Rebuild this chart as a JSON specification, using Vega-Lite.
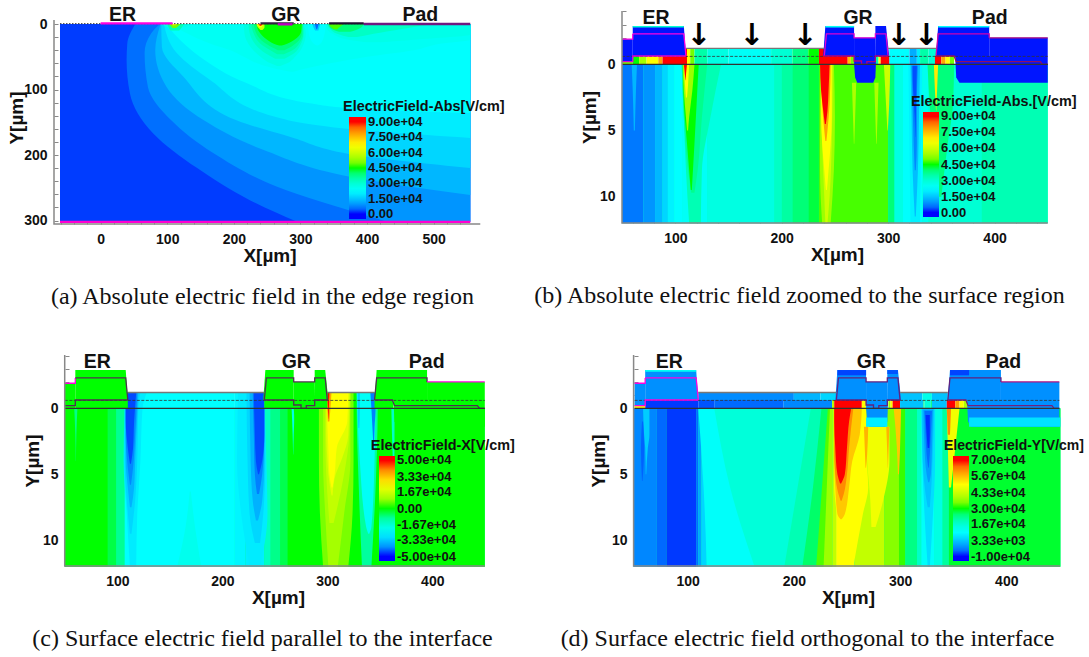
{"$schema":"https://vega.github.io/schema/vega-lite/v6.json","background":"white","padding":{"left":7,"top":4,"right":0,"bottom":0},"config":{"view":{"stroke":null},"font":"Liberation Sans","axis":{"grid":false,"domain":false,"tickColor":"#888","tickSize":-4,"tickWidth":1,"labelFont":"Liberation Sans","labelFontWeight":"bold","labelFontSize":14,"labelColor":"#111","labelOverlap":false,"labelFlush":false,"titleFont":"Liberation Sans","titleFontWeight":"bold","titleFontSize":19,"titleColor":"#111"},"legend":{"labelFont":"Liberation Sans","labelFontWeight":"bold","labelFontSize":13,"labelColor":"#111","labelOverlap":false,"labelOffset":2,"gradientStrokeWidth":0},"title":{"font":"Liberation Serif","fontWeight":"normal","fontSize":24,"color":"#111"}},"datasets":{
"ol":[{"g":"erL","x":50,"y":-1.9},{"g":"erL","x":60,"y":-1.9},{"g":"erL","x":60,"y":-2.3},{"g":"erT","x":60,"y":-2.3},{"g":"erT","x":108,"y":-2.3},{"g":"erT","x":110,"y":-0.63},{"g":"erB","x":50,"y":-0.2},{"g":"erB","x":60,"y":-0.2},{"g":"erB","x":60,"y":-0.63},{"g":"erB","x":110,"y":-0.63},{"g":"grT","x":240,"y":-0.63},{"g":"grT","x":242,"y":-2.3},{"g":"grT","x":268,"y":-2.3},{"g":"grT","x":268,"y":-2},{"g":"grT","x":288,"y":-2},{"g":"grT","x":288,"y":-2.3},{"g":"grT","x":298,"y":-2.3},{"g":"grT","x":300,"y":-0.63},{"g":"grB","x":240,"y":-0.63},{"g":"grB","x":268,"y":-0.63},{"g":"grB","x":268,"y":-0.25},{"g":"grB","x":275,"y":-0.25},{"g":"grB","x":275,"y":0},{"g":"grB","x":280,"y":0},{"g":"grB","x":280,"y":-0.2},{"g":"grB","x":288,"y":-0.2},{"g":"grB","x":288,"y":-0.63},{"g":"grB","x":300,"y":-0.63},{"g":"padT","x":345,"y":-0.63},{"g":"padT","x":347,"y":-2.3},{"g":"padT","x":395,"y":-2.3},{"g":"padT","x":395,"y":-2},{"g":"padR","x":395,"y":-2},{"g":"padR","x":450,"y":-2},{"g":"padB","x":345,"y":-0.63},{"g":"padB","x":362,"y":-0.63},{"g":"padB","x":364,"y":-0.2},{"g":"padB","x":443,"y":-0.2},{"g":"padB","x":445,"y":0},{"g":"padB","x":450,"y":0},{"g":"ox1","x":110,"y":-1.2},{"g":"ox1","x":240,"y":-1.2},{"g":"ox2","x":300,"y":-1.2},{"g":"ox2","x":345,"y":-1.2},{"g":"s0","x":50,"y":0},{"g":"s0","x":450,"y":0}],
"metal":[{"g":1,"y":-1.9,"x":50,"X":60},{"g":1,"y":-0.2,"x":50,"X":60},{"g":2,"y":-2.9,"x":60,"X":108},{"g":2,"y":-0.63,"x":60,"X":110},{"g":3,"y":-2.9,"x":241,"X":268},{"g":3,"y":-0.63,"x":239,"X":268},{"g":4,"y":-2,"x":268,"X":288},{"g":4,"y":0,"x":268,"X":288.5},{"g":4,"y":1,"x":269,"X":288},{"g":4,"y":1.4,"x":271,"X":286},{"g":5,"y":-2.9,"x":288,"X":298},{"g":5,"y":-0.63,"x":288,"X":301},{"g":6,"y":-2.9,"x":347,"X":395},{"g":6,"y":-0.63,"x":345,"X":395},{"g":7,"y":-2,"x":395,"X":450},{"g":7,"y":-0.63,"x":395,"X":450},{"g":8,"y":-0.63,"x":363,"X":450},{"g":8,"y":1,"x":364,"X":450},{"g":8,"y":1.4,"x":367,"X":450}]},
"resolve":{"scale":{"fill":"independent","stroke":"independent"},"legend":{"fill":"independent"}},
"vconcat":[{"spacing":28,"resolve":{"scale":{"fill":"independent","stroke":"independent"},"legend":{"fill":"independent"}},"hconcat":[
{"width":431,"height":213,"title":{"text":"(a) Absolute electric field in the edge region","orient":"bottom","anchor":"middle","dx":-7,"offset":20},
"encoding":{"x":{"field":"x","type":"quantitative","stack":null,"scale":{"domain":[-70,577.1],"nice":false,"zero":false},"axis":{"title":"X[µm]","titlePadding":0,"labelPadding":12,"format":"d","values":[-60,-40,-20,0,20,40,60,80,100,120,140,160,180,200,220,240,260,280,300,320,340,360,380,400,420,440,460,480,500,520,540],"labelExpr":"datum.value%100==0?datum.label:''"}},"y":{"field":"y","type":"quantitative","stack":null,"scale":{"domain":[305.3,-19.85],"nice":false,"zero":false},"axis":{"title":"Y[µm]","titlePadding":-3,"labelPadding":11,"format":"d","values":[0,20,40,60,80,100,120,140,160,180,200,220,240,260,280,300],"labelExpr":"datum.value%100==0?datum.label:''"}}},
"layer":[
{"mark":"rect","data":{"values":[{"x":-61,"X":555,"y":0,"Y":302,"v":1875}]},"encoding":{"x2":{"field":"X"},"y2":{"field":"Y"},"fill":{"field":"v","type":"quantitative","scale":{"domain":[-4800,0,22500,45000,67500,90000,94800],"range":["#0000ff","#0000ff","#00ffff","#00ff00","#ffff00","#ff0000","#ff0000"]},"legend":{"title":null,"type":"gradient","orient":"none","legendX":295,"legendY":106,"gradientLength":102,"gradientThickness":17,"values":[0,15000,30000,45000,60000,75000,90000],"labelExpr":"datum.value==0?'0.00':replace(format(datum.value,'.2e'),'e+','e+0')"}}}},
{"mark":{"type":"area","orient":"horizontal","interpolate":"monotone"},"data":{"values":[
{"g":1,"v":5625,"y":0,"x":52,"X":555},{"g":1,"v":5625,"y":30,"x":40,"X":555},{"g":1,"v":5625,"y":55,"x":39,"X":555},{"g":1,"v":5625,"y":106,"x":44,"X":555},{"g":1,"v":5625,"y":167,"x":79,"X":555},{"g":1,"v":5625,"y":220,"x":145,"X":555},{"g":1,"v":5625,"y":269,"x":224,"X":555},{"g":1,"v":5625,"y":302,"x":295,"X":555},
{"g":2,"v":9375,"y":0,"x":89,"X":555},{"g":2,"v":9375,"y":14,"x":76,"X":555},{"g":2,"v":9375,"y":44,"x":66,"X":555},{"g":2,"v":9375,"y":96,"x":71,"X":555},{"g":2,"v":9375,"y":147,"x":106,"X":555},{"g":2,"v":9375,"y":197,"x":169,"X":555},{"g":2,"v":9375,"y":248,"x":264,"X":555},{"g":2,"v":9375,"y":294,"x":404,"X":555},{"g":2,"v":9375,"y":302,"x":430,"X":555},
{"g":3,"v":13125,"y":0,"x":90,"X":555},{"g":3,"v":13125,"y":40,"x":82,"X":555},{"g":3,"v":13125,"y":96,"x":99,"X":555},{"g":3,"v":13125,"y":147,"x":155,"X":555},{"g":3,"v":13125,"y":192,"x":244,"X":555},{"g":3,"v":13125,"y":233,"x":374,"X":555},{"g":3,"v":13125,"y":261,"x":555,"X":555},
{"g":4,"v":16875,"y":0,"x":91,"X":555},{"g":4,"v":16875,"y":35,"x":92,"X":555},{"g":4,"v":16875,"y":80,"x":124,"X":555},{"g":4,"v":16875,"y":147,"x":204,"X":555},{"g":4,"v":16875,"y":172,"x":284,"X":555},{"g":4,"v":16875,"y":200,"x":384,"X":555},{"g":4,"v":16875,"y":220,"x":555,"X":555},
{"g":5,"v":20000,"y":0,"x":95,"X":555},{"g":5,"v":20000,"y":44,"x":114,"X":555},{"g":5,"v":20000,"y":85,"x":164,"X":555},{"g":5,"v":20000,"y":141,"x":259,"X":555},{"g":5,"v":20000,"y":160,"x":370,"X":555},{"g":5,"v":20000,"y":174,"x":555,"X":555},
{"g":6,"v":22800,"y":0,"x":98,"X":555},{"g":6,"v":22800,"y":20,"x":115,"X":555},{"g":6,"v":22800,"y":50,"x":149,"X":555},{"g":6,"v":22800,"y":90,"x":219,"X":555},{"g":6,"v":22800,"y":121,"x":314,"X":555},{"g":6,"v":22800,"y":130,"x":400,"X":555},{"g":6,"v":22800,"y":136,"x":555,"X":555},
{"g":7,"v":25000,"y":0,"x":105,"X":555},{"g":7,"v":25000,"y":12,"x":125,"X":555},{"g":7,"v":25000,"y":24,"x":150,"X":555},{"g":7,"v":25000,"y":30,"x":165,"X":510},{"g":7,"v":25000,"y":40,"x":195,"X":470},{"g":7,"v":25000,"y":50,"x":215,"X":400},{"g":7,"v":25000,"y":60,"x":235,"X":345},{"g":7,"v":25000,"y":70,"x":270,"X":300},{"g":7,"v":25000,"y":73,"x":285,"X":290},
{"g":8,"v":27000,"y":0,"x":338,"X":555},{"g":8,"v":27000,"y":8,"x":340,"X":555},{"g":8,"v":27000,"y":16,"x":350,"X":555},{"g":8,"v":27000,"y":24,"x":372,"X":470},{"g":8,"v":27000,"y":28,"x":400,"X":420},
{"g":9,"v":28125,"y":0,"x":215,"X":305},{"g":9,"v":28125,"y":15,"x":216,"X":308},{"g":9,"v":28125,"y":35,"x":225,"X":303},{"g":9,"v":28125,"y":50,"x":240,"X":292},{"g":9,"v":28125,"y":60,"x":255,"X":280},{"g":9,"v":28125,"y":64,"x":265,"X":270},
{"g":10,"v":31875,"y":0,"x":222,"X":304},{"g":10,"v":31875,"y":15,"x":224,"X":305},{"g":10,"v":31875,"y":32,"x":233,"X":300},{"g":10,"v":31875,"y":45,"x":248,"X":290},{"g":10,"v":31875,"y":53,"x":262,"X":276},
{"g":11,"v":35625,"y":0,"x":226,"X":304},{"g":11,"v":35625,"y":15,"x":230,"X":304},{"g":11,"v":35625,"y":30,"x":240,"X":298},{"g":11,"v":35625,"y":40,"x":255,"X":288},{"g":11,"v":35625,"y":46,"x":265,"X":275},
{"g":12,"v":39375,"y":0,"x":230,"X":303},{"g":12,"v":39375,"y":15,"x":234,"X":302},{"g":12,"v":39375,"y":28,"x":245,"X":295},{"g":12,"v":39375,"y":36,"x":258,"X":284},{"g":12,"v":39375,"y":40,"x":266,"X":276},
{"g":13,"v":45000,"y":0,"x":234,"X":302},{"g":13,"v":45000,"y":12,"x":238,"X":301},{"g":13,"v":45000,"y":24,"x":250,"X":291},{"g":13,"v":45000,"y":30,"x":260,"X":280},{"g":13,"v":45000,"y":33,"x":268,"X":272},
{"g":14,"v":60000,"y":0,"x":234,"X":246},{"g":14,"v":60000,"y":5,"x":236,"X":246},{"g":14,"v":60000,"y":9,"x":240,"X":243},
{"g":15,"v":67500,"y":0,"x":236,"X":244},{"g":15,"v":67500,"y":5,"x":238,"X":242},
{"g":16,"v":88000,"y":0,"x":237,"X":243},{"g":16,"v":88000,"y":3,"x":239,"X":241},
{"g":17,"v":22500,"y":0,"x":311,"X":338},{"g":17,"v":22500,"y":10,"x":312,"X":337},{"g":17,"v":22500,"y":20,"x":314,"X":335},{"g":17,"v":22500,"y":30,"x":320,"X":330},{"g":17,"v":22500,"y":33,"x":325,"X":326},
{"g":18,"v":15000,"y":0,"x":318,"X":330},{"g":18,"v":15000,"y":6,"x":320,"X":328},{"g":18,"v":15000,"y":10,"x":322,"X":327},
{"g":19,"v":5000,"y":0,"x":322,"X":327},{"g":19,"v":5000,"y":5,"x":323,"X":326},{"g":19,"v":5000,"y":8,"x":324,"X":325},
{"g":20,"v":31875,"y":0,"x":340,"X":500},{"g":20,"v":31875,"y":8,"x":345,"X":450},{"g":20,"v":31875,"y":15,"x":355,"X":410},{"g":20,"v":31875,"y":20,"x":372,"X":385},
{"g":21,"v":39375,"y":0,"x":342,"X":395},{"g":21,"v":39375,"y":6,"x":345,"X":390},{"g":21,"v":39375,"y":12,"x":358,"X":375},
{"g":22,"v":46875,"y":0,"x":343,"X":365},{"g":22,"v":46875,"y":4,"x":345,"X":360},{"g":22,"v":46875,"y":8,"x":350,"X":355},
{"g":23,"v":27000,"y":0,"x":92,"X":135},{"g":23,"v":27000,"y":5,"x":100,"X":130},
{"g":24,"v":34000,"y":0,"x":100,"X":125},{"g":24,"v":34000,"y":5,"x":102,"X":122},{"g":24,"v":34000,"y":10,"x":105,"X":118},
{"g":25,"v":50000,"y":0,"x":103,"X":120},{"g":25,"v":50000,"y":4,"x":106,"X":116},{"g":25,"v":50000,"y":6,"x":108,"X":113},
{"g":26,"v":70000,"y":0,"x":106,"X":114},{"g":26,"v":70000,"y":2,"x":108,"X":112}]},"encoding":{"x2":{"field":"X"},"detail":{"field":"g"},"fill":{"field":"v","type":"quantitative","legend":null}}},
{"mark":{"type":"line","strokeDash":[1.5,1.5],"strokeWidth":1,"color":"#333"},"data":{"values":[{"x":-61,"y":-0.5},{"x":555,"y":-0.5}]},"encoding":{}},
{"mark":{"type":"line","strokeWidth":2.4},"data":{"values":[{"g":"m","x":0,"y":-1},{"g":"m","x":108,"y":-1},{"g":"d1","x":240,"y":-1},{"g":"d1","x":290,"y":-1},{"g":"m2","x":266,"y":0.5},{"g":"m2","x":288,"y":0.5},{"g":"d2","x":343,"y":-1},{"g":"d2","x":395,"y":-1},{"g":"p","x":395,"y":0},{"g":"p","x":555,"y":0},{"g":"b","x":-61,"y":302},{"g":"b","x":555,"y":302}]},"encoding":{"stroke":{"field":"g","type":"nominal","legend":null,"scale":{"domain":["m","d1","m2","d2","p","b"],"range":["#ff00e0","#302040","#c000c0","#201030","#701880","#ff00d0"]}}}},
{"mark":{"type":"line","strokeWidth":1.5,"color":"#888"},"data":{"values":[{"x":-70,"y":-6},{"x":-70,"y":305.3},{"x":570,"y":305.3}]},"encoding":{}},
{"mark":{"type":"text","fontSize":19.5,"fontWeight":"bold","color":"#111","baseline":"middle"},"data":{"values":[{"x":33,"y":-14,"t":"ER"},{"x":278,"y":-14,"t":"GR"},{"x":480,"y":-14,"t":"Pad"}]},"encoding":{"text":{"field":"t"}}},
{"mark":{"type":"text","fontSize":14.4,"fontWeight":"bold","color":"#111","baseline":"middle","align":"left"},"data":{"values":[{"x":364,"y":127,"t":"ElectricField-Abs[V/cm]"}]},"encoding":{"text":{"field":"t"}}}
]},
{"width":435,"height":212,"title":{"text":"(b) Absolute electric field zoomed to the surface region","orient":"bottom","anchor":"middle","dx":-40,"offset":20},
"encoding":{"x":{"field":"x","type":"quantitative","stack":null,"scale":{"domain":[49.9,458.7],"nice":false,"zero":false},"axis":{"title":"X[µm]","titlePadding":0,"titleX":215,"labelPadding":12,"format":"d","values":[60,80,100,120,140,160,180,200,220,240,260,280,300,320,340,360,380,400,420,440],"labelExpr":"datum.value%100==0?datum.label:''"}},"y":{"field":"y","type":"quantitative","stack":null,"scale":{"domain":[11.99,-4.03],"nice":false,"zero":false},"axis":{"title":"Y[µm]","titlePadding":0,"labelPadding":11,"format":"d","values":[-4,-3,-2,-1,0,1,2,3,4,5,6,7,8,9,10,11],"labelExpr":"datum.value%5==0&&datum.value>=0?datum.label:''"}}},
"layer":[
{"mark":"rect","data":{"values":[{"x":50,"X":450,"y":0,"Y":12,"v":30000},{"x":50,"X":70,"y":0,"Y":12,"v":6500},{"x":70,"X":81,"y":0,"Y":12,"v":9375},{"x":81,"X":88,"y":0,"Y":12,"v":13125},{"x":88,"X":93,"y":0,"Y":12,"v":16875},{"x":93,"X":99,"y":0,"Y":12,"v":20625},{"x":99,"X":107,"y":0,"Y":12,"v":22500},{"x":107,"X":130,"y":0,"Y":12,"v":24375},{"x":130,"X":193,"y":0,"Y":12,"v":28125},{"x":193,"X":200,"y":0,"Y":12,"v":31875},{"x":200,"X":210,"y":0,"Y":12,"v":35625},{"x":210,"X":225,"y":0,"Y":12,"v":39375},{"x":225,"X":235,"y":0,"Y":12,"v":43125},{"x":235,"X":300,"y":0,"Y":12,"v":46875},{"x":300,"X":306,"y":0,"Y":12,"v":39375},{"x":306,"X":314,"y":0,"Y":12,"v":28000},{"x":314,"X":332,"y":0,"Y":12,"v":23000},{"x":332,"X":338,"y":0,"Y":12,"v":26000},{"x":338,"X":388,"y":0,"Y":12,"v":30000},{"x":388,"X":450,"y":0,"Y":12,"v":33750},
{"x":109,"X":111,"y":-1.2,"Y":0,"v":90000},{"x":111,"X":114,"y":-1.2,"Y":0,"v":67500},{"x":114,"X":118,"y":-1.2,"Y":0,"v":50000},{"x":118,"X":130,"y":-1.2,"Y":0,"v":35000},{"x":130,"X":150,"y":-1.2,"Y":0,"v":28000},{"x":150,"X":190,"y":-1.2,"Y":0,"v":24500},{"x":190,"X":210,"y":-1.2,"Y":0,"v":30000},{"x":210,"X":225,"y":-1.2,"Y":0,"v":38000},{"x":225,"X":235,"y":-1.2,"Y":0,"v":45000},{"x":235,"X":240,"y":-1.2,"Y":0,"v":90000},{"x":301,"X":320,"y":-1.2,"Y":0,"v":22500},{"x":320,"X":327,"y":-1.2,"Y":0,"v":12000},{"x":327,"X":330,"y":-1.2,"Y":0,"v":20000},{"x":330,"X":338,"y":-1.2,"Y":0,"v":35000},{"x":338,"X":345,"y":-1.2,"Y":0,"v":30000},
{"x":50,"X":60,"y":-0.2,"Y":0,"v":50000},{"x":60,"X":66,"y":-0.63,"Y":0,"v":45000},{"x":66,"X":73,"y":-0.63,"Y":0,"v":55000},{"x":73,"X":84,"y":-0.63,"Y":0,"v":67500},{"x":84,"X":88,"y":-0.63,"Y":0,"v":78000},{"x":88,"X":110,"y":-0.63,"Y":0,"v":90000},{"x":239,"X":262,"y":-0.63,"Y":0,"v":90000},{"x":262,"X":265,"y":-0.63,"Y":0,"v":75000},{"x":265,"X":268,"y":-0.63,"Y":0,"v":50000},{"x":288,"X":291,"y":-0.63,"Y":0,"v":35000},{"x":291,"X":293,"y":-0.63,"Y":0,"v":67500},{"x":293,"X":301,"y":-0.63,"Y":0,"v":90000},{"x":344,"X":350,"y":-0.63,"Y":0,"v":90000},{"x":350,"X":354,"y":-0.63,"Y":0,"v":78000},{"x":354,"X":358,"y":-0.63,"Y":0,"v":67500},{"x":358,"X":362,"y":-0.63,"Y":0,"v":50000}]},"encoding":{"x2":{"field":"X"},"y2":{"field":"Y"},"fill":{"field":"v","type":"quantitative","scale":{"domain":[-4200,0,22500,45000,67500,90000,94200],"range":["#0000ff","#0000ff","#00ffff","#00ff00","#ffff00","#ff0000","#ff0000"]},"legend":{"title":null,"type":"gradient","orient":"none","legendX":301,"legendY":101,"gradientLength":105,"gradientThickness":16,"values":[0,15000,30000,45000,60000,75000,90000],"labelExpr":"datum.value==0?'0.00':replace(format(datum.value,'.2e'),'e+','e+0')"}}}},
{"mark":{"type":"area","orient":"horizontal","interpolate":"monotone"},"data":{"values":[
{"g":1,"v":13125,"y":0,"x":59,"X":64},{"g":1,"v":13125,"y":2,"x":60,"X":63},{"g":1,"v":13125,"y":5,"x":61,"X":62},
{"g":2,"v":33750,"y":0,"x":106,"X":143},{"g":2,"v":33750,"y":4,"x":108,"X":133},{"g":2,"v":33750,"y":8,"x":110,"X":125},{"g":2,"v":33750,"y":12,"x":113,"X":124},
{"g":3,"v":37500,"y":0,"x":106,"X":130},{"g":3,"v":37500,"y":4,"x":108,"X":125},{"g":3,"v":37500,"y":8,"x":112,"X":121},{"g":3,"v":37500,"y":9.7,"x":115,"X":118},
{"g":4,"v":45000,"y":0,"x":107,"X":122},{"g":4,"v":45000,"y":3,"x":108,"X":120},{"g":4,"v":45000,"y":6,"x":111,"X":118},{"g":4,"v":45000,"y":9.5,"x":114.5,"X":115.5},
{"g":5,"v":54000,"y":0,"x":107,"X":118},{"g":5,"v":54000,"y":2,"x":108,"X":116},{"g":5,"v":54000,"y":4,"x":110,"X":113},{"g":5,"v":54000,"y":5,"x":111,"X":112},
{"g":6,"v":67500,"y":0,"x":108,"X":113},{"g":6,"v":67500,"y":1.5,"x":109,"X":112},{"g":6,"v":67500,"y":2.5,"x":110,"X":111},
{"g":7,"v":90000,"y":0,"x":108,"X":111},{"g":7,"v":90000,"y":0.8,"x":109,"X":110},{"g":7,"v":90000,"y":1.2,"x":109.4,"X":109.6},
{"g":8,"v":54000,"y":0,"x":236,"X":249},{"g":8,"v":54000,"y":4,"x":236,"X":250},{"g":8,"v":54000,"y":8,"x":236,"X":249},{"g":8,"v":54000,"y":12,"x":238,"X":246},
{"g":9,"v":60000,"y":0,"x":237,"X":248},{"g":9,"v":60000,"y":6,"x":238,"X":247},{"g":9,"v":60000,"y":10,"x":240,"X":245},{"g":9,"v":60000,"y":12,"x":241,"X":243},
{"g":10,"v":67500,"y":0,"x":237,"X":247},{"g":10,"v":67500,"y":4,"x":237,"X":247},{"g":10,"v":67500,"y":6,"x":238,"X":246},{"g":10,"v":67500,"y":8,"x":240,"X":244},{"g":10,"v":67500,"y":9.5,"x":241.5,"X":242.5},
{"g":11,"v":78000,"y":0,"x":237,"X":246},{"g":11,"v":78000,"y":3,"x":238,"X":245},{"g":11,"v":78000,"y":5,"x":240,"X":243},{"g":11,"v":78000,"y":5.8,"x":241,"X":242},
{"g":12,"v":90000,"y":0,"x":236,"X":245},{"g":12,"v":90000,"y":2,"x":237,"X":244},{"g":12,"v":90000,"y":3.5,"x":239,"X":243},{"g":12,"v":90000,"y":4.5,"x":240.5,"X":241.5},
{"g":13,"v":56000,"y":1.4,"x":266,"X":270},{"g":13,"v":56000,"y":4,"x":267,"X":269},{"g":13,"v":56000,"y":6,"x":267.8,"X":268.2},
{"g":14,"v":56000,"y":1.4,"x":287,"X":291},{"g":14,"v":56000,"y":4,"x":288,"X":290},{"g":14,"v":56000,"y":6,"x":288.8,"X":289.2},
{"g":15,"v":60000,"y":0,"x":296,"X":302},{"g":15,"v":60000,"y":3,"x":298,"X":301},{"g":15,"v":60000,"y":5,"x":299.3,"X":299.7},
{"g":16,"v":39000,"y":0,"x":337,"X":362},{"g":16,"v":39000,"y":3,"x":339,"X":361},{"g":16,"v":39000,"y":6,"x":342,"X":356},{"g":16,"v":39000,"y":10,"x":345,"X":350},
{"g":17,"v":70000,"y":0,"x":343,"X":347},{"g":17,"v":70000,"y":2,"x":344,"X":346},{"g":17,"v":70000,"y":3.5,"x":345,"X":345.3},
{"g":18,"v":20625,"y":0,"x":319,"X":332},{"g":18,"v":20625,"y":6,"x":320,"X":331},{"g":18,"v":20625,"y":12,"x":321,"X":330},
{"g":19,"v":14000,"y":0,"x":321,"X":330},{"g":19,"v":14000,"y":4,"x":322,"X":329},{"g":19,"v":14000,"y":8,"x":323,"X":328},{"g":19,"v":14000,"y":11.5,"x":325,"X":326},
{"g":20,"v":8000,"y":0.1,"x":322,"X":328},{"g":20,"v":8000,"y":3,"x":323,"X":327},{"g":20,"v":8000,"y":6,"x":324,"X":327},{"g":20,"v":8000,"y":8,"x":325,"X":326},
{"g":21,"v":3000,"y":0.1,"x":323,"X":327},{"g":21,"v":3000,"y":2,"x":323.5,"X":326.5},{"g":21,"v":3000,"y":4,"x":325,"X":326},{"g":21,"v":3000,"y":5.5,"x":325.4,"X":325.6}]},"encoding":{"x2":{"field":"X"},"detail":{"field":"g"},"fill":{"field":"v","type":"quantitative","legend":null}}},
{"mark":{"type":"area","orient":"horizontal","color":"#0015ff"},"data":{"name":"metal"},"encoding":{"x2":{"field":"X"},"detail":{"field":"g"}}},
{"mark":"rect","data":{"values":[{"x":60,"X":108,"y":-2.9,"Y":-2.78,"v":30000},{"x":241,"X":268,"y":-2.9,"Y":-2.78,"v":25000},{"x":347,"X":395,"y":-2.9,"Y":-2.78,"v":22000}]},"encoding":{"x2":{"field":"X"},"y2":{"field":"Y"},"fill":{"field":"v","type":"quantitative","legend":null}}},
{"mark":{"type":"line","strokeDash":[3,1.5],"strokeWidth":0.8,"color":"#333"},"data":{"values":[{"x":50,"y":-0.6},{"x":450,"y":-0.6}]},"encoding":{}},
{"mark":{"type":"line","strokeWidth":1.3},"data":{"name":"ol"},"encoding":{"stroke":{"field":"g","type":"nominal","legend":null,"scale":{"domain":["erL","erT","erB","grT","grB","padT","padR","padB","ox1","ox2","s0"],"range":["#ff00e0","#ff00e0","#e000d0","#e000d0","#b00080","#d000b0","#b01080","#901060","#777","#777","#333"]}}}},
{"mark":{"type":"line","strokeWidth":1.5,"color":"#888"},"data":{"values":[{"x":49.9,"y":-4.03},{"x":49.9,"y":11.99},{"x":450,"y":11.99}]},"encoding":{}},
{"mark":{"type":"text","fontSize":19.5,"fontWeight":"bold","color":"#111","baseline":"middle"},"data":{"values":[{"x":82,"y":-3.5,"t":"ER"},{"x":271.7,"y":-3.5,"t":"GR"},{"x":395.5,"y":-3.5,"t":"Pad"}]},"encoding":{"text":{"field":"t"}}},
{"mark":{"type":"text","fontSize":30,"fontWeight":"bold","color":"#000","font":"DejaVu Sans","baseline":"middle"},"data":{"values":[{"x":122,"y":-2.15,"t":"↓"},{"x":172,"y":-2.15,"t":"↓"},{"x":222,"y":-2.15,"t":"↓"},{"x":310,"y":-2.15,"t":"↓"},{"x":336,"y":-2.15,"t":"↓"}]},"encoding":{"text":{"field":"t"}}},
{"mark":{"type":"text","fontSize":14.4,"fontWeight":"bold","color":"#111","baseline":"middle","align":"left"},"data":{"values":[{"x":321.5,"y":2.85,"t":"ElectricField-Abs.[V/cm]"}]},"encoding":{"text":{"field":"t"}}}
]}]},
{"spacing":45,"resolve":{"scale":{"fill":"independent","stroke":"independent"},"legend":{"fill":"independent"}},"hconcat":[
{"width":431,"height":211,"title":{"text":"(c) Surface electric field parallel to the interface","orient":"bottom","anchor":"middle","dx":-7,"offset":20},
"encoding":{"x":{"field":"x","type":"quantitative","stack":null,"scale":{"domain":[39.7,450.2],"nice":false,"zero":false},"axis":{"title":"X[µm]","titlePadding":0,"titleX":224,"labelPadding":12,"format":"d","values":[60,80,100,120,140,160,180,200,220,240,260,280,300,320,340,360,380,400,420,440],"labelExpr":"datum.value%100==0?datum.label:''"}},"y":{"field":"y","type":"quantitative","stack":null,"scale":{"domain":[11.95,-4.04],"nice":false,"zero":false},"axis":{"title":"Y[µm]","offset":-11,"titlePadding":0,"labelPadding":11,"format":"d","values":[-4,-3,-2,-1,0,1,2,3,4,5,6,7,8,9,10,11],"labelExpr":"datum.value%5==0&&datum.value>=0?datum.label:''"}}},
"layer":[
{"mark":"rect","data":{"values":[{"x":50,"X":450,"y":0,"Y":12,"v":-8000},{"x":50,"X":91,"y":0,"Y":12,"v":0},{"x":91,"X":99,"y":0,"Y":12,"v":-2500},{"x":99,"X":107,"y":0,"Y":12,"v":-9000},{"x":107,"X":212,"y":-1.2,"Y":12,"v":-25000},{"x":212,"X":222,"y":-1.2,"Y":12,"v":-26500},{"x":222,"X":240,"y":-1.2,"Y":12,"v":-27500},{"x":240,"X":246,"y":0,"Y":12,"v":-14000},{"x":246,"X":255,"y":0,"Y":12,"v":-8000},{"x":255,"X":262,"y":0,"Y":12,"v":-3000},{"x":262,"X":450,"y":0,"Y":12,"v":0},{"x":300,"X":345,"y":-1.2,"Y":0,"v":0}]},"encoding":{"x2":{"field":"X"},"y2":{"field":"Y"},"fill":{"field":"v","type":"quantitative","scale":{"domain":[-54660,-50000,-25000,0,25000,50000,54660],"range":["#0000ff","#0000ff","#00ffff","#00ff00","#ffff00","#ff0000","#ff0000"]},"legend":{"title":null,"type":"gradient","orient":"none","legendX":325,"legendY":101,"gradientLength":105,"gradientThickness":16,"values":[-50000,-33300,-16700,0,16700,33300,50000],"labelExpr":"datum.value==0?'0.00':replace(replace(format(datum.value,'.2e'),'e+','e+0'),'−','-')"}}}},
{"mark":{"type":"area","orient":"horizontal","interpolate":"monotone"},"data":{"values":[
{"g":1,"v":-21000,"y":6.3,"x":169,"X":170},{"g":1,"v":-21000,"y":9,"x":165,"X":174},{"g":1,"v":-21000,"y":12,"x":157,"X":180},
{"g":2,"v":-28000,"y":-1.2,"x":108,"X":128},{"g":2,"v":-28000,"y":0,"x":107,"X":124},{"g":2,"v":-28000,"y":4,"x":106,"X":122},{"g":2,"v":-28000,"y":8,"x":109,"X":119},{"g":2,"v":-28000,"y":12,"x":112,"X":118},
{"g":3,"v":-31000,"y":-1.2,"x":108,"X":122},{"g":3,"v":-31000,"y":0,"x":107,"X":120},{"g":3,"v":-31000,"y":4,"x":107,"X":119},{"g":3,"v":-31000,"y":7,"x":109,"X":117},{"g":3,"v":-31000,"y":9.5,"x":112,"X":113.5},
{"g":4,"v":-36000,"y":-1.2,"x":108,"X":120},{"g":4,"v":-36000,"y":4,"x":108,"X":117},{"g":4,"v":-36000,"y":6,"x":110,"X":116},{"g":4,"v":-36000,"y":7.5,"x":112,"X":113.5},
{"g":5,"v":-41000,"y":-1.2,"x":108,"X":119},{"g":5,"v":-41000,"y":2,"x":108,"X":117},{"g":5,"v":-41000,"y":4.5,"x":110,"X":115},{"g":5,"v":-41000,"y":5.8,"x":112,"X":113},
{"g":6,"v":-47000,"y":-1.2,"x":108,"X":118},{"g":6,"v":-47000,"y":1,"x":108,"X":116},{"g":6,"v":-47000,"y":3,"x":110,"X":115},{"g":6,"v":-47000,"y":4.2,"x":112,"X":113},
{"g":7,"v":-28000,"y":-1.2,"x":215,"X":240},{"g":7,"v":-28000,"y":4,"x":214,"X":242},{"g":7,"v":-28000,"y":8,"x":218,"X":243},{"g":7,"v":-28000,"y":12,"x":226,"X":236},
{"g":8,"v":-31000,"y":-1.2,"x":223,"X":240},{"g":8,"v":-31000,"y":4,"x":224,"X":241},{"g":8,"v":-31000,"y":8,"x":226,"X":239},{"g":8,"v":-31000,"y":10.2,"x":231,"X":236},
{"g":9,"v":-36000,"y":-1.2,"x":226,"X":240},{"g":9,"v":-36000,"y":4,"x":227,"X":240},{"g":9,"v":-36000,"y":7,"x":229,"X":238},{"g":9,"v":-36000,"y":8.5,"x":232,"X":234},
{"g":10,"v":-42000,"y":-1.2,"x":229,"X":240},{"g":10,"v":-42000,"y":2,"x":230,"X":240},{"g":10,"v":-42000,"y":5,"x":231,"X":238},{"g":10,"v":-42000,"y":6.5,"x":233,"X":235},
{"g":11,"v":-47000,"y":-1.2,"x":230,"X":240},{"g":11,"v":-47000,"y":2,"x":231,"X":240},{"g":11,"v":-47000,"y":4,"x":232,"X":238},{"g":11,"v":-47000,"y":5,"x":234,"X":235},
{"g":12,"v":-20000,"y":0,"x":266,"X":269},{"g":12,"v":-20000,"y":2,"x":267,"X":268},{"g":12,"v":-20000,"y":3.5,"x":267.4,"X":267.6},
{"g":13,"v":-8000,"y":0,"x":59,"X":62},{"g":13,"v":-8000,"y":2,"x":60,"X":61},{"g":13,"v":-8000,"y":4,"x":60.4,"X":60.6},
{"g":14,"v":6000,"y":-1.2,"x":292,"X":325},{"g":14,"v":6000,"y":4,"x":292,"X":325},{"g":14,"v":6000,"y":8,"x":293,"X":324},{"g":14,"v":6000,"y":12,"x":296,"X":320},
{"g":15,"v":11000,"y":-1.2,"x":296,"X":322},{"g":15,"v":11000,"y":4,"x":296,"X":322},{"g":15,"v":11000,"y":8,"x":298,"X":316},{"g":15,"v":11000,"y":12,"x":301,"X":310},
{"g":16,"v":15000,"y":-1.2,"x":298,"X":322},{"g":16,"v":15000,"y":2,"x":298,"X":321},{"g":16,"v":15000,"y":5,"x":299,"X":316},{"g":16,"v":15000,"y":8.7,"x":302,"X":306},
{"g":17,"v":20000,"y":-1.2,"x":299,"X":321},{"g":17,"v":20000,"y":2,"x":299,"X":320},{"g":17,"v":20000,"y":3.8,"x":300,"X":314},{"g":17,"v":20000,"y":5,"x":301,"X":308},{"g":17,"v":20000,"y":6.6,"x":304,"X":305},
{"g":18,"v":25000,"y":-1.2,"x":299,"X":320},{"g":18,"v":25000,"y":1,"x":300,"X":319},{"g":18,"v":25000,"y":3,"x":301,"X":309},{"g":18,"v":25000,"y":5,"x":302,"X":307},{"g":18,"v":25000,"y":6,"x":304,"X":305},
{"g":19,"v":37000,"y":-1.2,"x":299,"X":304},{"g":19,"v":37000,"y":0,"x":300,"X":303},{"g":19,"v":37000,"y":1,"x":300.5,"X":302},
{"g":20,"v":50000,"y":-1.2,"x":300,"X":302},{"g":20,"v":50000,"y":0,"x":300.5,"X":301.5},{"g":20,"v":50000,"y":0.8,"x":301,"X":301.2},
{"g":21,"v":-10000,"y":-1.2,"x":328,"X":347},{"g":21,"v":-10000,"y":0,"x":328,"X":348},{"g":21,"v":-10000,"y":6,"x":330,"X":346},{"g":21,"v":-10000,"y":12,"x":333,"X":342},
{"g":22,"v":-23000,"y":-1.2,"x":328,"X":346},{"g":22,"v":-23000,"y":4,"x":331,"X":345},{"g":22,"v":-23000,"y":9,"x":337,"X":342},{"g":22,"v":-23000,"y":9.5,"x":339,"X":340},
{"g":23,"v":-32000,"y":-1.2,"x":329,"X":331},{"g":23,"v":-32000,"y":0,"x":329,"X":331},{"g":23,"v":-32000,"y":1.5,"x":329.5,"X":330.5},
{"g":24,"v":-42000,"y":-1.2,"x":341,"X":346},{"g":24,"v":-42000,"y":0,"x":342,"X":346},{"g":24,"v":-42000,"y":1.5,"x":343,"X":345},{"g":24,"v":-42000,"y":3,"x":344,"X":344.5},
{"g":25,"v":-15000,"y":0,"x":361,"X":364},{"g":25,"v":-15000,"y":3,"x":362,"X":364},{"g":25,"v":-15000,"y":5,"x":363,"X":363.5}]},"encoding":{"x2":{"field":"X"},"detail":{"field":"g"},"fill":{"field":"v","type":"quantitative","legend":null}}},
{"mark":{"type":"area","orient":"horizontal","color":"#00ff00"},"data":{"name":"metal"},"encoding":{"x2":{"field":"X"},"detail":{"field":"g"}}},
{"mark":"rect","data":{"values":[{"x":50,"X":60,"y":-0.2,"Y":0,"v":0},{"x":60,"X":110,"y":-0.63,"Y":0,"v":0},{"x":240,"X":300,"y":-0.63,"Y":0,"v":0},{"x":345,"X":363,"y":-0.63,"Y":0,"v":0}]},"encoding":{"x2":{"field":"X"},"y2":{"field":"Y"},"fill":{"field":"v","type":"quantitative","legend":null}}},
{"mark":{"type":"line","strokeDash":[3,1.5],"strokeWidth":0.8,"color":"#333"},"data":{"values":[{"x":50,"y":-0.6},{"x":450,"y":-0.6}]},"encoding":{}},
{"mark":{"type":"line","strokeWidth":1.3},"data":{"name":"ol"},"encoding":{"stroke":{"field":"g","type":"nominal","legend":null,"scale":{"domain":["erL","erT","erB","grT","grB","padT","padR","padB","ox1","ox2","s0"],"range":["#ff00e0","#503050","#503050","#503050","#503050","#503050","#ff00e0","#503050","#777","#777","#333"]}}}},
{"mark":{"type":"line","strokeWidth":1.5,"color":"#888"},"data":{"values":[{"x":49.9,"y":-4.04},{"x":49.9,"y":11.95},{"x":450,"y":11.95}]},"encoding":{}},
{"mark":{"type":"text","fontSize":19.5,"fontWeight":"bold","color":"#111","baseline":"middle"},"data":{"values":[{"x":81,"y":-3.53,"t":"ER"},{"x":270.5,"y":-3.53,"t":"GR"},{"x":394.7,"y":-3.53,"t":"Pad"}]},"encoding":{"text":{"field":"t"}}},
{"mark":{"type":"text","fontSize":14.4,"fontWeight":"bold","color":"#111","baseline":"middle","align":"left"},"data":{"values":[{"x":341.5,"y":2.86,"t":"ElectricField-X[V/cm]"}]},"encoding":{"text":{"field":"t"}}}
]},
{"width":435,"height":211,"title":{"text":"(d) Surface electric field orthogonal to the interface","orient":"bottom","anchor":"middle","dx":-35,"offset":20},
"encoding":{"x":{"field":"x","type":"quantitative","stack":null,"scale":{"domain":[41,450.6],"nice":false,"zero":false},"axis":{"title":"X[µm]","titlePadding":0,"titleX":223,"labelPadding":12,"format":"d","values":[60,80,100,120,140,160,180,200,220,240,260,280,300,320,340,360,380,400,420,440],"labelExpr":"datum.value%100==0?datum.label:''"}},"y":{"field":"y","type":"quantitative","stack":null,"scale":{"domain":[11.95,-4.04],"nice":false,"zero":false},"axis":{"title":"Y[µm]","offset":-9,"titlePadding":3,"labelPadding":11,"format":"d","values":[-4,-3,-2,-1,0,1,2,3,4,5,6,7,8,9,10,11],"labelExpr":"datum.value%5==0&&datum.value>=0?datum.label:''"}}},
"layer":[
{"mark":"rect","data":{"values":[{"x":49,"X":451,"y":0,"Y":12,"v":20000},{"x":49,"X":71,"y":0,"Y":12,"v":-3000},{"x":71,"X":80,"y":0,"Y":12,"v":-5500},{"x":80,"X":108,"y":0,"Y":12,"v":-8500},{"x":108,"X":110,"y":0,"Y":12,"v":-5000},{"x":110,"X":113,"y":0,"Y":12,"v":0},{"x":113,"X":118,"y":0,"Y":12,"v":5000},{"x":118,"X":236,"y":0,"Y":12,"v":16000},{"x":236,"X":240,"y":0,"Y":12,"v":42000},{"x":240,"X":257,"y":0,"Y":12,"v":48000},{"x":257,"X":285,"y":0,"Y":12,"v":42000},{"x":285,"X":299,"y":0,"Y":12,"v":36000},{"x":299,"X":305,"y":0,"Y":12,"v":31000},{"x":305,"X":316,"y":0,"Y":12,"v":24000},{"x":316,"X":320,"y":0,"Y":12,"v":18000},{"x":320,"X":332,"y":0,"Y":12,"v":11000},{"x":332,"X":340,"y":0,"Y":12,"v":15000},{"x":340,"X":346,"y":0,"Y":12,"v":22000},{"x":346,"X":451,"y":0,"Y":12,"v":29000},
{"x":110,"X":200,"y":-1.2,"Y":-0.63,"v":-2500},{"x":200,"X":225,"y":-1.2,"Y":-0.63,"v":1500},{"x":225,"X":240,"y":-1.2,"Y":-0.63,"v":5000},{"x":300,"X":321,"y":-1.2,"Y":-0.63,"v":3000},{"x":321,"X":330,"y":-1.2,"Y":-0.63,"v":14000},{"x":330,"X":345,"y":-1.2,"Y":-0.63,"v":3000},
{"x":60,"X":110,"y":-0.63,"Y":0,"v":-8500},{"x":110,"X":125,"y":-0.63,"Y":0,"v":-7000},{"x":125,"X":190,"y":-0.63,"Y":0,"v":-5500},{"x":190,"X":236,"y":-0.63,"Y":0,"v":-3000},{"x":236,"X":238,"y":-0.63,"Y":0,"v":40000},{"x":238,"X":264,"y":-0.63,"Y":0,"v":70000},{"x":264,"X":268,"y":-0.63,"Y":0,"v":50000},{"x":289,"X":291,"y":-0.63,"Y":0,"v":38000},{"x":291,"X":293,"y":-0.63,"Y":0,"v":50000},{"x":293,"X":300,"y":-0.63,"Y":0,"v":70000},{"x":300,"X":322,"y":-0.63,"Y":0,"v":3000},{"x":322,"X":323,"y":-0.63,"Y":0,"v":25000},{"x":323,"X":329,"y":-0.63,"Y":0,"v":16000},{"x":329,"X":330,"y":-0.63,"Y":0,"v":25000},{"x":330,"X":344,"y":-0.63,"Y":0,"v":3000},{"x":344,"X":352,"y":-0.63,"Y":0,"v":70000},{"x":352,"X":356,"y":-0.63,"Y":0,"v":60000},{"x":356,"X":360,"y":-0.63,"Y":0,"v":50000},{"x":360,"X":364,"y":-0.63,"Y":0,"v":40000},{"x":50,"X":60,"y":-0.2,"Y":0,"v":50000}]},"encoding":{"x2":{"field":"X"},"y2":{"field":"Y"},"fill":{"field":"v","type":"quantitative","scale":{"domain":[-13700,-10000,10000,30000,50000,70000,73700],"range":["#0000ff","#0000ff","#00ffff","#00ff00","#ffff00","#ff0000","#ff0000"]},"legend":{"title":null,"type":"gradient","orient":"none","legendX":328,"legendY":101,"gradientLength":105,"gradientThickness":16,"values":[-10000,3330,16700,30000,43300,56700,70000],"labelExpr":"replace(replace(format(datum.value,'.2e'),'e+','e+0'),'−','-')"}}}},
{"mark":{"type":"area","orient":"horizontal","interpolate":"monotone"},"data":{"values":[
{"g":1,"v":11000,"y":0,"x":110,"X":125},{"g":1,"v":11000,"y":6,"x":115,"X":140},{"g":1,"v":11000,"y":12,"x":118,"X":163},
{"g":2,"v":20000,"y":0,"x":216,"X":236},{"g":2,"v":20000,"y":12,"x":191,"X":236},
{"g":3,"v":26000,"y":0,"x":226,"X":236},{"g":3,"v":26000,"y":6,"x":218,"X":236},{"g":3,"v":26000,"y":12,"x":208,"X":236},
{"g":4,"v":32000,"y":0,"x":232,"X":236},{"g":4,"v":32000,"y":12,"x":221,"X":236},
{"g":5,"v":38000,"y":0,"x":234,"X":236},{"g":5,"v":38000,"y":12,"x":228,"X":236},
{"g":6,"v":50000,"y":0,"x":238,"X":268},{"g":6,"v":50000,"y":3,"x":238,"X":268},{"g":6,"v":50000,"y":6,"x":238,"X":270},{"g":6,"v":50000,"y":8,"x":240,"X":265},{"g":6,"v":50000,"y":12,"x":240,"X":256},
{"g":7,"v":48000,"y":1.4,"x":268,"X":290},{"g":7,"v":48000,"y":4,"x":269,"X":290},{"g":7,"v":48000,"y":7,"x":272,"X":284},{"g":7,"v":48000,"y":9,"x":273,"X":277},
{"g":8,"v":56000,"y":0,"x":238,"X":264},{"g":8,"v":56000,"y":2,"x":238,"X":262},{"g":8,"v":56000,"y":4,"x":238,"X":255},{"g":8,"v":56000,"y":6,"x":239,"X":252},{"g":8,"v":56000,"y":8,"x":241,"X":248},{"g":8,"v":56000,"y":8.4,"x":244,"X":245},
{"g":9,"v":62000,"y":0,"x":238,"X":256},{"g":9,"v":62000,"y":3,"x":238,"X":252},{"g":9,"v":62000,"y":5,"x":239,"X":250},{"g":9,"v":62000,"y":6.5,"x":242,"X":247},{"g":9,"v":62000,"y":7,"x":244,"X":245},
{"g":10,"v":70000,"y":0,"x":238,"X":254},{"g":10,"v":70000,"y":1,"x":238,"X":252},{"g":10,"v":70000,"y":3,"x":239,"X":250},{"g":10,"v":70000,"y":5,"x":241,"X":248},{"g":10,"v":70000,"y":5.7,"x":243.5,"X":244.5},
{"g":11,"v":58000,"y":1.4,"x":266,"X":270},{"g":11,"v":58000,"y":3.5,"x":267,"X":269},{"g":11,"v":58000,"y":4.5,"x":267.5,"X":268},
{"g":12,"v":58000,"y":1.4,"x":287,"X":290},{"g":12,"v":58000,"y":3.5,"x":288,"X":289},{"g":12,"v":58000,"y":4.5,"x":288.4,"X":288.6},
{"g":13,"v":56000,"y":0,"x":294,"X":301},{"g":13,"v":56000,"y":3,"x":297,"X":300},{"g":13,"v":56000,"y":5,"x":298,"X":299},
{"g":14,"v":48000,"y":0,"x":344,"X":356},{"g":14,"v":48000,"y":3,"x":345,"X":352},{"g":14,"v":48000,"y":6,"x":346,"X":348},
{"g":15,"v":62000,"y":0,"x":344,"X":348},{"g":15,"v":62000,"y":2,"x":345,"X":347},
{"g":16,"v":6000,"y":0,"x":320,"X":333},{"g":16,"v":6000,"y":4,"x":321,"X":333},{"g":16,"v":6000,"y":8,"x":323,"X":331},{"g":16,"v":6000,"y":12,"x":326,"X":328},
{"g":17,"v":3000,"y":0,"x":320.5,"X":332},{"g":17,"v":3000,"y":3,"x":321,"X":331},{"g":17,"v":3000,"y":6.5,"x":324,"X":329},{"g":17,"v":3000,"y":7.5,"x":326,"X":328},
{"g":18,"v":-1000,"y":0.1,"x":322,"X":331},{"g":18,"v":-1000,"y":3,"x":323,"X":330},{"g":18,"v":-1000,"y":5,"x":325,"X":329},{"g":18,"v":-1000,"y":5.6,"x":326.5,"X":327.5},
{"g":19,"v":-5000,"y":0.2,"x":323,"X":330},{"g":19,"v":-5000,"y":2,"x":324,"X":329},{"g":19,"v":-5000,"y":3.5,"x":325,"X":328},{"g":19,"v":-5000,"y":4.5,"x":326.5,"X":327},
{"g":20,"v":-9000,"y":0.5,"x":324,"X":328},{"g":20,"v":-9000,"y":2,"x":325,"X":328},{"g":20,"v":-9000,"y":3,"x":326,"X":327.5},
{"g":21,"v":4000,"y":0,"x":58,"X":64},{"g":21,"v":4000,"y":2,"x":59,"X":64},{"g":21,"v":4000,"y":3,"x":60,"X":62.5},{"g":21,"v":4000,"y":5,"x":60.5,"X":61},
{"g":22,"v":-6000,"y":1,"x":57,"X":58},{"g":22,"v":-6000,"y":3,"x":56,"X":59},{"g":22,"v":-6000,"y":5.5,"x":57,"X":57.5}]},"encoding":{"x2":{"field":"X"},"detail":{"field":"g"},"fill":{"field":"v","type":"quantitative","legend":null}}},
{"mark":{"type":"area","orient":"horizontal","color":"#0090ff"},"data":{"name":"metal"},"encoding":{"x2":{"field":"X"},"detail":{"field":"g"}}},
{"mark":"rect","data":{"values":[{"x":268,"X":288,"y":0.7,"Y":1.4,"v":8000},{"x":365,"X":451,"y":0.7,"Y":1.4,"v":6500},{"x":241,"X":268,"y":-2.9,"Y":-2.5,"v":-8000},{"x":347,"X":365,"y":-2.9,"Y":-2.5,"v":-8000},{"x":288,"X":298,"y":-2.9,"Y":-2.6,"v":-7000},{"x":60,"X":108,"y":-2.9,"Y":-2.78,"v":12000}]},"encoding":{"x2":{"field":"X"},"y2":{"field":"Y"},"fill":{"field":"v","type":"quantitative","legend":null}}},
{"mark":{"type":"line","strokeDash":[3,1.5],"strokeWidth":0.8,"color":"#333"},"data":{"values":[{"x":50,"y":-0.6},{"x":450,"y":-0.6}]},"encoding":{}},
{"mark":{"type":"line","strokeWidth":1.3},"data":{"name":"ol"},"encoding":{"stroke":{"field":"g","type":"nominal","legend":null,"scale":{"domain":["erL","erT","erB","grT","grB","padT","padR","padB","ox1","ox2","s0"],"range":["#ff00e0","#ff00e0","#ff00e0","#602080","#602080","#602080","#b01080","#702080","#777","#777","#333"]}}}},
{"mark":{"type":"line","strokeWidth":1.5,"color":"#888"},"data":{"values":[{"x":49.1,"y":-4.04},{"x":49.1,"y":11.95},{"x":450.6,"y":11.95}]},"encoding":{}},
{"mark":{"type":"text","fontSize":19.5,"fontWeight":"bold","color":"#111","baseline":"middle"},"data":{"values":[{"x":82.7,"y":-3.53,"t":"ER"},{"x":272.9,"y":-3.53,"t":"GR"},{"x":397.2,"y":-3.53,"t":"Pad"}]},"encoding":{"text":{"field":"t"}}},
{"mark":{"type":"text","fontSize":14,"fontWeight":"bold","color":"#111","baseline":"middle","align":"left"},"data":{"values":[{"x":341.3,"y":2.86,"t":"ElectricField-Y[V/cm]"}]},"encoding":{"text":{"field":"t"}}}
]}]}],"spacing":39}
